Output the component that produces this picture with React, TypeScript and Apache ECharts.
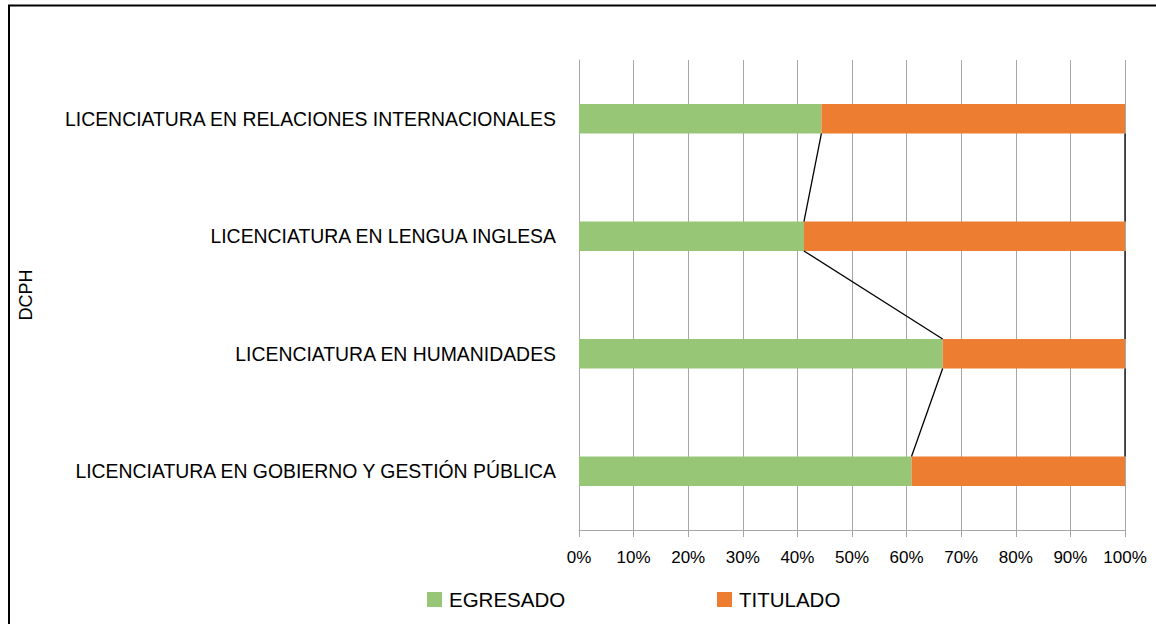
import React, { useEffect, useRef } from "react";
import * as echarts from "echarts";

const categories = [
  "LICENCIATURA EN GOBIERNO Y GESTIÓN PÚBLICA",
  "LICENCIATURA EN HUMANIDADES",
  "LICENCIATURA EN LENGUA INGLESA",
  "LICENCIATURA EN RELACIONES INTERNACIONALES",
];
const egresado = [60.9, 66.6, 41.2, 44.4];
const titulado = [39.1, 33.4, 58.8, 55.6];
const xTicks = [0, 10, 20, 30, 40, 50, 60, 70, 80, 90, 100];
const groupLabel = "DCPH";
const seriesNames = ["EGRESADO", "TITULADO"];

const GREEN = "#97C676";
const ORANGE = "#ED7D31";
const FONT = "Liberation Sans";
const BAR_FRAC = 0.25;

export default function App() {
  const ref = useRef<HTMLDivElement>(null);
  useEffect(() => {
    if (!ref.current) return;
    const chart = echarts.init(ref.current, null, { renderer: "svg" });
    const cumulative = egresado.map((v, i) => v + titulado[i]);
    const linkData: number[][] = [];
    for (let i = 0; i < categories.length - 1; i++) {
      linkData.push([egresado[i], i, egresado[i + 1], i + 1]);
      linkData.push([cumulative[i], i, cumulative[i + 1], i + 1]);
    }
    chart.setOption({
      animation: false,
      grid: { left: 579, right: 31, top: 60, bottom: 94, containLabel: false },
      graphic: [
        {
          type: "rect",
          shape: { x: 9, y: 5.5, width: 1300, height: 800 },
          style: { fill: "none", stroke: "#000", lineWidth: 2 },
          silent: true,
          z: 100,
        },
      ],
      legend: [
        {
          data: [seriesNames[0]],
          left: 427,
          top: 589,
          padding: 0,
          icon: "rect",
          itemWidth: 15,
          itemHeight: 15,
          textStyle: { fontFamily: FONT, fontSize: 20.5, color: "#000", padding: [0, 0, 0, 2] },
        },
        {
          data: [seriesNames[1]],
          left: 717,
          top: 589,
          padding: 0,
          icon: "rect",
          itemWidth: 15,
          itemHeight: 15,
          textStyle: { fontFamily: FONT, fontSize: 20.5, color: "#000", padding: [0, 0, 0, 2] },
        },
      ],
      xAxis: {
        type: "value",
        min: 0,
        max: 100,
        interval: 10,
        axisLine: { show: true, lineStyle: { color: "#A6A6A6", width: 1 } },
        axisTick: { show: true, length: 7, lineStyle: { color: "#A6A6A6" } },
        splitLine: { show: true, lineStyle: { color: "#A6A6A6", width: 1 } },
        axisLabel: {
          margin: 19,
          fontFamily: FONT,
          fontSize: 17,
          color: "#000",
          formatter: (v: number) => (xTicks.includes(v) ? v + "%" : ""),
        },
      },
      yAxis: {
        type: "category",
        data: categories,
        name: groupLabel,
        nameLocation: "middle",
        nameRotate: 90,
        nameGap: 544,
        nameTextStyle: { fontFamily: FONT, fontSize: 18, color: "#000" },
        axisLine: { show: true, lineStyle: { color: "#A6A6A6", width: 1 } },
        axisTick: { show: false },
        axisLabel: { margin: 23, fontFamily: FONT, fontSize: 19.4, color: "#000" },
      },
      series: [
        {
          name: seriesNames[0],
          type: "bar",
          stack: "total",
          barWidth: "25%",
          data: egresado,
          itemStyle: { color: GREEN },
        },
        {
          name: seriesNames[1],
          type: "bar",
          stack: "total",
          barWidth: "25%",
          data: titulado,
          itemStyle: { color: ORANGE },
        },
        {
          type: "custom",
          data: linkData,
          encode: { x: [0, 2], y: [1, 3] },
          z: 5,
          silent: true,
          renderItem: (params: any, api: any) => {
            const p1 = api.coord([api.value(0), api.value(1)]);
            const p2 = api.coord([api.value(2), api.value(3)]);
            const band = api.size([0, 1])[1];
            const h = (band * BAR_FRAC) / 2;
            return {
              type: "line",
              shape: { x1: p1[0], y1: p1[1] - h, x2: p2[0], y2: p2[1] + h },
              style: { stroke: "#000", lineWidth: 1.3 },
            };
          },
        },
      ],
    });
    return () => chart.dispose();
  }, []);
  return (
    <div
      ref={ref}
      style={{ position: "absolute", left: 0, top: 0, width: 1156, height: 624, background: "#fff" }}
    />
  );
}
